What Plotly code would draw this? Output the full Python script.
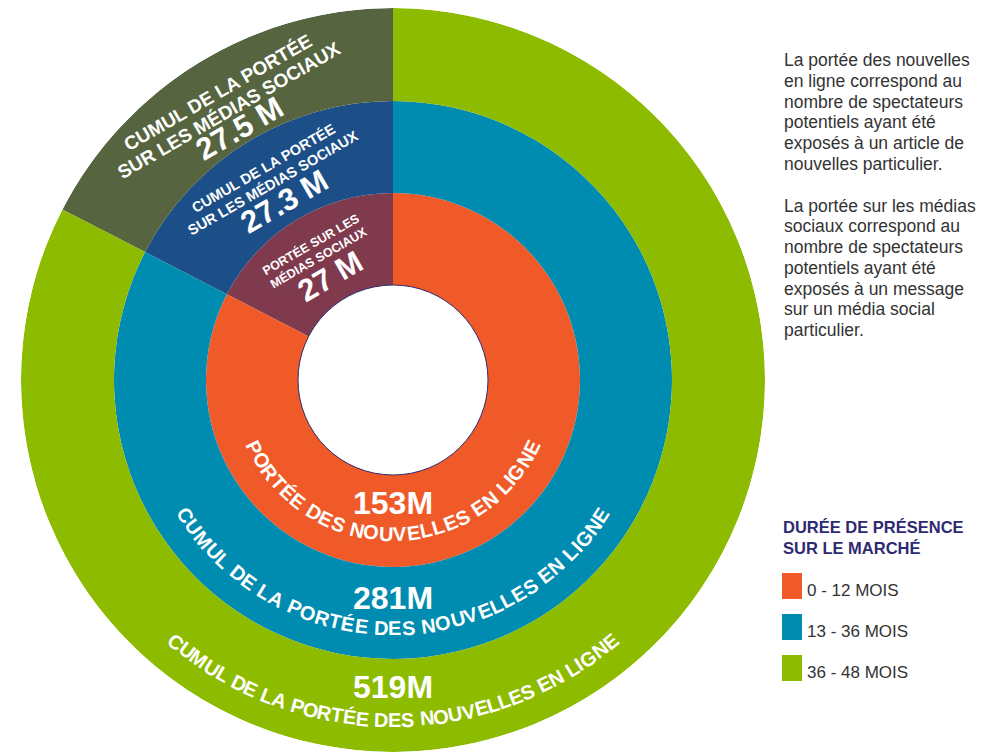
import math
import plotly.graph_objects as go

# données
periodes = ["0 - 12 MOIS", "13 - 36 MOIS", "36 - 48 MOIS"]
portee_nouvelles = [153, 281, 519]          # millions
portee_sociaux = [27, 27.3, 27.5]           # millions
libelles_nouvelles = ["PORTÉE DES NOUVELLES EN LIGNE",
                      "CUMUL DE LA PORTÉE DES NOUVELLES EN LIGNE",
                      "CUMUL DE LA PORTÉE DES NOUVELLES EN LIGNE"]
libelles_sociaux = [["PORTÉE SUR LES", "MÉDIAS SOCIAUX"],
                    ["CUMUL DE LA PORTÉE", "SUR LES MÉDIAS SOCIAUX"],
                    ["CUMUL DE LA PORTÉE", "SUR LES MÉDIAS SOCIAUX"]]
angle_sociaux = 62.7                        # largeur du secteur (degrés)

couleurs = ["#F05A28", "#008BB0", "#8DBB00"]
couleurs_sociaux = ["#7F3A4E", "#1C4F87", "#566540"]

texte_droite = [
    "La portée des nouvelles", "en ligne correspond au", "nombre de spectateurs",
    "potentiels ayant été", "exposés à un article de", "nouvelles particulier.",
]
texte_droite_2 = [
    "La portée sur les médias", "sociaux correspond au", "nombre de spectateurs",
    "potentiels ayant été", "exposés à un message", "sur un média social",
    "particulier.",
]

# la page html garde la marge de 8 px du <body> : on décale tout
OFF = 8
W, H = 1000, 754
CX, CY = 393, 380
bords = [95, 187, 279, 372]
FONT = "Liberation Sans, Arial, sans-serif"

fig = go.Figure()
for i in range(3):
    ep = bords[i + 1] - bords[i]
    fig.add_trace(go.Barpolar(
        r=[ep, ep], base=[bords[i], bords[i]],
        theta=[angle_sociaux / 2, angle_sociaux + (360 - angle_sociaux) / 2],
        width=[angle_sociaux, 360 - angle_sociaux],
        marker=dict(color=[couleurs_sociaux[i], couleurs[i]], line=dict(width=0)),
        customdata=[portee_sociaux[i], portee_nouvelles[i]],
        hovertemplate="%{customdata} M<extra></extra>",
        name=periodes[i], showlegend=False,
    ))


def px(x):
    return (x - OFF) / W


def py(y):
    return 1 - (y - OFF) / H


anns = []


def note(x, y, text, size, color="white", weight="normal", angle=0, xa="center"):
    anns.append(dict(x=px(x), y=py(y), xref="paper", yref="paper", text=text,
                     showarrow=False, textangle=angle, xanchor=xa, yanchor="middle",
                     font=dict(family=FONT, size=size, color=color, weight=weight)))


# texte en arc
LARG = {" ": .278, "A": .722, "C": .722, "D": .722, "E": .667, "É": .667, "G": .778,
        "I": .278, "L": .611, "M": .833, "N": .722, "O": .778, "P": .667, "R": .722,
        "S": .667, "T": .611, "U": .722, "V": .667}


def texte_arc(texte, rayon, demi, taille):
    w = [LARG.get(c, .667) for c in texte]
    total = sum(w) - w[0] / 2 - w[-1] / 2
    acc = 0
    for c, wi in zip(texte, w):
        pos = acc + wi / 2 - w[0] / 2
        acc += wi
        if c == " ":
            continue
        phi = -demi + 2 * demi * pos / total
        a = math.radians(phi)
        note(CX + rayon * math.sin(a), CY + rayon * math.cos(a), c, taille,
             weight="bold", angle=-phi)


arcs = [(154, 64), (248, 57), (340, 39.7)]
rayons_nombre = [123, 218, 307]
for i in range(3):
    texte_arc(libelles_nouvelles[i], arcs[i][0], arcs[i][1], 20)
    note(CX, CY + rayons_nombre[i], f"{portee_nouvelles[i]}M", 32, weight="bold")

# libellés des secteurs médias sociaux
beta = math.radians(angle_sociaux / 2)
blocs = [([159, 143, 121], [12.5, 12.5, 31]),
         ([248, 231, 209], [14.5, 14.5, 31]),
         ([337, 316, 295], [19, 19, 31])]
for i in range(3):
    lignes = libelles_sociaux[i] + [f"{portee_sociaux[i]:g} M"]
    for txt, rho, taille in zip(lignes, blocs[i][0], blocs[i][1]):
        note(CX - rho * math.sin(beta), CY - rho * math.cos(beta), txt, taille,
             weight="bold", angle=-30)

# texte explicatif à droite
for j, l in enumerate(texte_droite):
    note(782, 60 + 20.75 * j, l, 17.5, color="#333333", xa="left")
for j, l in enumerate(texte_droite_2):
    note(782, 205.5 + 20.75 * j, l, 17.5, color="#333333", xa="left")

# légende
for j, l in enumerate(["DURÉE DE PRÉSENCE", "SUR LE MARCHÉ"]):
    note(781, 527 + 21 * j, l, 16.5, color="#2E2A72", weight="bold", xa="left")

shapes = []
for j, p in enumerate(periodes):
    top = 573 + 41 * j
    shapes.append(dict(type="rect", xref="paper", yref="paper",
                       x0=px(782), x1=px(802), y0=py(top + 26), y1=py(top),
                       fillcolor=couleurs[j], line=dict(width=0)))
    note(805, top + 17.5, p, 17, color="#333333", xa="left")

# contour du trou central
shapes.append(dict(type="circle", xref="paper", yref="paper",
                   x0=px(CX - bords[0]), x1=px(CX + bords[0]),
                   y0=py(CY + bords[0]), y1=py(CY - bords[0]),
                   line=dict(color="#2E2A72", width=1)))

fig.update_layout(
    width=W, height=H, margin=dict(l=0, r=0, t=0, b=0),
    paper_bgcolor="white", plot_bgcolor="white",
    polar=dict(
        domain=dict(x=[px(CX - bords[3]), px(CX + bords[3])],
                    y=[py(CY + bords[3]), py(CY - bords[3])]),
        bgcolor="white",
        radialaxis=dict(range=[0, bords[3]], visible=False),
        angularaxis=dict(rotation=90, direction="counterclockwise", visible=False),
    ),
    annotations=anns, shapes=shapes, showlegend=False,
)

fig.write_html("out.html")
